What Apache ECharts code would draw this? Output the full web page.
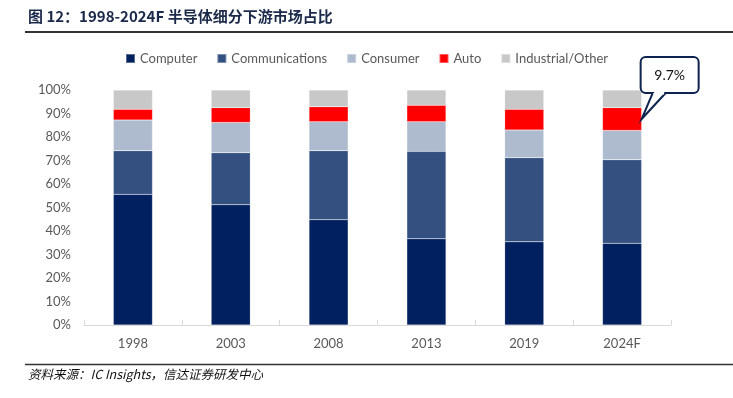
<!DOCTYPE html>
<html>
<head>
<meta charset="utf-8">
<script src="https://cdn.jsdelivr.net/npm/echarts@6/dist/echarts.min.js"></script>
<style>
  html, body { margin: 0; padding: 0; background: #fff; }
</style>
</head>
<body>
<div id="chart" style="width: 733px; height: 398px;"></div>
<script>
const years = ['1998', '2003', '2008', '2013', '2019', '2024F'];
const computer = [55.6, 51.2, 44.8, 36.7, 35.4, 34.8];
const communications = [18.6, 22.1, 29.4, 37.2, 35.8, 35.5];
const consumer = [13.0, 12.9, 12.3, 12.6, 11.8, 12.5];
const auto = [4.6, 6.3, 6.4, 7.0, 8.8, 9.7];
const industrial = [8.2, 7.5, 7.1, 6.5, 8.2, 7.5];
const seriesNames = ['Computer', 'Communications', 'Consumer', 'Auto', 'Industrial/Other'];
const colors = ['#002060', '#335080', '#aebbcf', '#ff0000', '#c8c8c8'];

const font = 'Lato, "Noto Sans", sans-serif';
const chart = echarts.init(document.getElementById('chart'));

const makeSeries = (name, data) => ({
  name,
  type: 'bar',
  stack: 'total',
  barWidth: '40%',
  data,
  itemStyle: { borderColor: 'rgba(255,255,255,0.35)', borderWidth: 0.5 },
});

const option = {
  animation: false,
  color: colors,
  legend: {
    top: 47,
    left: 'center',
    icon: 'rect',
    itemWidth: 9,
    itemHeight: 9,
    itemGap: 19,
    textStyle: { color: '#595959', fontSize: 13, fontFamily: font },
    data: seriesNames,
  },
  grid: {
    left: 84,
    right: 62,
    top: 90,
    bottom: 73,
  },
  xAxis: {
    type: 'category',
    data: years,
    axisLine: { lineStyle: { color: '#d9d9d9', width: 1 } },
    axisTick: { show: true, inside: true, length: 5, lineStyle: { color: '#d9d9d9' } },
    axisLabel: { color: '#595959', fontSize: 13, fontFamily: font, margin: 12 },
  },
  yAxis: {
    type: 'value',
    min: 0,
    max: 100,
    interval: 10,
    axisLine: { show: false },
    axisTick: { show: false },
    splitLine: { show: false },
    axisLabel: { formatter: '{value}%', color: '#595959', fontSize: 13, fontFamily: font, margin: 13 },
  },
  series: [
    makeSeries(seriesNames[0], computer),
    makeSeries(seriesNames[1], communications),
    makeSeries(seriesNames[2], consumer),
    makeSeries(seriesNames[3], auto),
    makeSeries(seriesNames[4], industrial),
  ],
  graphic: [
    {
      type: 'text',
      left: 28,
      top: 9,
      style: {
        text: '图 12：1998-2024F 半导体细分下游市场占比',
        fill: '#1b2a4a',
        font: 'bold 15px "Noto Sans CJK SC", sans-serif',
      },
    },
    {
      type: 'line',
      shape: { x1: 25, y1: 32, x2: 733, y2: 32 },
      style: { stroke: '#333', lineWidth: 2 },
    },
    {
      type: 'line',
      shape: { x1: 25, y1: 364.5, x2: 733, y2: 364.5 },
      style: { stroke: '#333', lineWidth: 1.5 },
    },
    {
      type: 'text',
      left: 28,
      top: 368,
      style: {
        text: '资料来源：IC Insights，信达证券研发中心',
        fill: '#111',
        font: 'italic 12.5px "Noto Sans CJK SC", sans-serif',
      },
    },
  ],
};

chart.setOption(option);

// callout for the last Auto segment, anchored through the axes
const last = years.length - 1;
const autoMid = computer[last] + communications[last] + consumer[last] + auto[last] / 2;
const center = chart.convertToPixel({ seriesIndex: 3 }, [last, autoMid]);
const catWidth = 587 / years.length;
const tipX = center[0] + catWidth * 0.2;
const tipY = center[1];
const boxX = tipX - 1;
const boxY = tipY - 62;
const boxW = 58;
const boxH = 36;
const navy = '#0d2350';

chart.setOption({
  graphic: option.graphic.concat([
    {
      type: 'rect',
      shape: { x: boxX, y: boxY, width: boxW, height: boxH, r: 5 },
      style: { fill: '#fff', stroke: navy, lineWidth: 2 },
      z: 10,
    },
    {
      type: 'polyline',
      shape: { points: [[tipX + 11, boxY + boxH], [tipX, tipY], [tipX + 24, boxY + boxH]] },
      style: { fill: '#fff', stroke: navy, lineWidth: 2 },
      z: 11,
    },
    {
      type: 'line',
      shape: { x1: tipX + 12.5, y1: boxY + boxH, x2: tipX + 22.5, y2: boxY + boxH },
      style: { stroke: '#fff', lineWidth: 3 },
      z: 12,
    },
    {
      type: 'text',
      x: boxX + boxW / 2,
      y: boxY + boxH / 2,
      style: {
        text: auto[last].toFixed(1) + '%',
        fill: '#111',
        font: '14px ' + font,
        align: 'center',
        verticalAlign: 'middle',
      },
      z: 13,
    },
  ]),
});

window.addEventListener('resize', () => chart.resize());
</script>
</body>
</html>
